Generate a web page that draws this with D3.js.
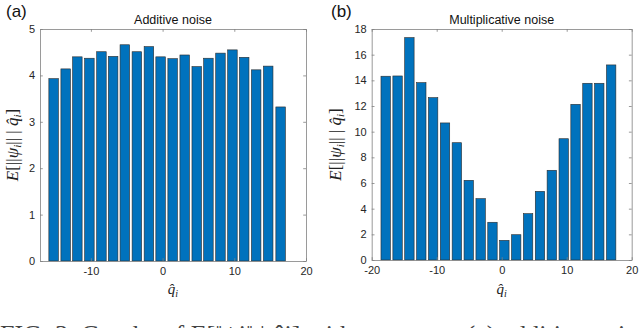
<!DOCTYPE html>
<html>
<head>
<meta charset="utf-8">
<script src="https://cdn.jsdelivr.net/npm/d3@7"></script>
<style>
  body { margin: 0; background: #fff; }
  svg { display: block; }
  .tick text { font-family: "Liberation Sans", Arial, sans-serif; font-size: 11px; fill: #262626; }
</style>
</head>
<body>
<svg id="chart" width="640" height="328"></svg>
<script>
// bin centres and heights
var addQ = [-15.2, -13.52, -11.89, -10.21, -8.53, -6.9, -5.27, -3.59, -1.91, -0.28,
            1.4, 3.08, 4.76, 6.39, 8.07, 9.74, 11.38, 13.05, 14.73, 16.46];
var addE = [3.93, 4.14, 4.4, 4.37, 4.51, 4.41, 4.66, 4.51, 4.62, 4.4,
            4.36, 4.44, 4.19, 4.37, 4.48, 4.55, 4.39, 4.12, 4.2, 3.32];

var mulQ = [-17.85, -16.02, -14.2, -12.37, -10.55, -8.72, -6.9, -5.07, -3.24, -1.42,
            0.41, 2.23, 4.06, 5.89, 7.71, 9.54, 11.36, 13.19, 15.01, 16.84];
var mulE = [14.32, 14.34, 17.33, 13.82, 12.65, 10.68, 9.14, 6.21, 4.78, 2.94,
            1.53, 1.97, 3.61, 5.35, 6.99, 9.45, 12.13, 13.77, 13.77, 15.2];

var addXTicks = [-10, 0, 10, 20];
var addYTicks = [0, 1, 2, 3, 4, 5];
var mulXTicks = [-20, -10, 0, 10, 20];
var mulYTicks = [0, 2, 4, 6, 8, 10, 12, 14, 16, 18];

var svg = d3.select("#chart");

function drawPanel(opt) {
  var x = d3.scaleLinear().domain(opt.xDomain).range([opt.left, opt.right]),
      y = d3.scaleLinear().domain(opt.yDomain).range([opt.bottom, opt.top]),
      g = svg.append("g");

  // bars
  var bw = Math.abs(x(opt.q[1]) - x(opt.q[0])) * 0.79;
  g.selectAll("rect.bar")
    .data(opt.q)
    .enter().append("rect")
    .attr("class", "bar")
    .attr("x", function (d) { return x(d) - bw / 2; })
    .attr("width", bw)
    .attr("y", function (d, i) { return y(opt.e[i]); })
    .attr("height", function (d, i) { return y(0) - y(opt.e[i]); })
    .attr("fill", "#0072BD")
    .attr("stroke", "#2a2a2a")
    .attr("stroke-width", 0.6);

  // axes, ticks inward, mirrored on top/right
  var tl = 2.8, fmt = function (d) { return d < 0 ? "-" + Math.abs(d) : String(d); };
  var xb = g.append("g").attr("transform", "translate(0," + opt.bottom + ")")
    .call(d3.axisBottom(x).tickValues(opt.xTicks).tickFormat(fmt).tickSizeInner(-tl).tickSizeOuter(0).tickPadding(6));
  var xt = g.append("g").attr("transform", "translate(0," + opt.top + ")")
    .call(d3.axisTop(x).tickValues(opt.xTicks).tickSizeInner(-tl).tickSizeOuter(0).tickFormat(""));
  var yl = g.append("g").attr("transform", "translate(" + opt.left + ",0)")
    .call(d3.axisLeft(y).tickValues(opt.yTicks).tickFormat(fmt).tickSizeInner(-tl).tickSizeOuter(0).tickPadding(5));
  var yr = g.append("g").attr("transform", "translate(" + opt.right + ",0)")
    .call(d3.axisRight(y).tickValues(opt.yTicks).tickSizeInner(-tl).tickSizeOuter(0).tickFormat(""));
  [xb, xt, yl, yr].forEach(function (a) {
    a.select(".domain").attr("stroke", "#808080").attr("stroke-width", 0.8);
    a.selectAll(".tick line").attr("stroke", "#808080").attr("stroke-width", 0.8);
  });

  // panel letter and title
  g.append("text")
    .attr("x", opt.letterX).attr("y", 17)
    .attr("font-family", "Liberation Sans, Arial, sans-serif")
    .attr("font-size", 17).attr("fill", "#111")
    .text(opt.letter);
  g.append("text")
    .attr("x", (opt.left + opt.right) / 2).attr("y", 24)
    .attr("text-anchor", "middle")
    .attr("font-family", "Liberation Sans, Arial, sans-serif")
    .attr("font-size", 12.5).attr("fill", "#111")
    .text(opt.title);

  // x label: q-hat sub i
  var xl = g.append("text")
    .attr("x", (opt.left + opt.right) / 2).attr("y", 294)
    .attr("text-anchor", "middle")
    .attr("font-family", "Liberation Serif, DejaVu Serif, serif")
    .attr("font-style", "italic").attr("font-size", 15).attr("fill", "#222");
  xl.append("tspan").text("q\u0302");
  xl.append("tspan").attr("font-size", 10).attr("dy", 3).text("i");

  // y label: E[||psi_i|| | q-hat_i]
  var ylab = g.append("text")
    .attr("transform", "translate(" + opt.yLabelX + "," + (opt.top + opt.bottom) / 2 + ") rotate(-90)")
    .attr("text-anchor", "middle")
    .attr("font-family", "Liberation Serif, DejaVu Serif, serif")
    .attr("font-size", 17).attr("fill", "#222");
  ylab.append("tspan").attr("font-style", "italic").text("E");
  ylab.append("tspan").text("[||");
  ylab.append("tspan").attr("font-style", "italic").text("\u03c8");
  ylab.append("tspan").attr("font-style", "italic").attr("font-size", 11).attr("dy", 3).text("i");
  ylab.append("tspan").attr("dy", -3).text("|| | ");
  ylab.append("tspan").attr("font-style", "italic").text("q\u0302");
  ylab.append("tspan").attr("font-style", "italic").attr("font-size", 11).attr("dy", 3).text("i");
  ylab.append("tspan").attr("dy", -3).text("]");
}

drawPanel({
  q: addQ, e: addE, xTicks: addXTicks, yTicks: addYTicks,
  xDomain: [-17.1, 20], yDomain: [0, 5],
  left: 40, right: 306, top: 29, bottom: 261,
  letter: "(a)", letterX: 6, title: "Additive noise", yLabelX: 18
});

drawPanel({
  q: mulQ, e: mulE, xTicks: mulXTicks, yTicks: mulYTicks,
  xDomain: [-20, 20], yDomain: [0, 18],
  left: 371.7, right: 631.7, top: 29, bottom: 260,
  letter: "(b)", letterX: 331, title: "Multiplicative noise", yLabelX: 341
});

// caption, only its top edge shows at the bottom of the picture
svg.append("text")
  .attr("x", 0).attr("y", 343)
  .attr("font-family", "Liberation Serif, serif")
  .attr("font-size", 26).attr("fill", "#444")
  .text("FIG. 3. Graphs of E[\u2016\u03c8i\u2016 | q\u0302i] with respect to (a) additive noise");
</script>
</body>
</html>
